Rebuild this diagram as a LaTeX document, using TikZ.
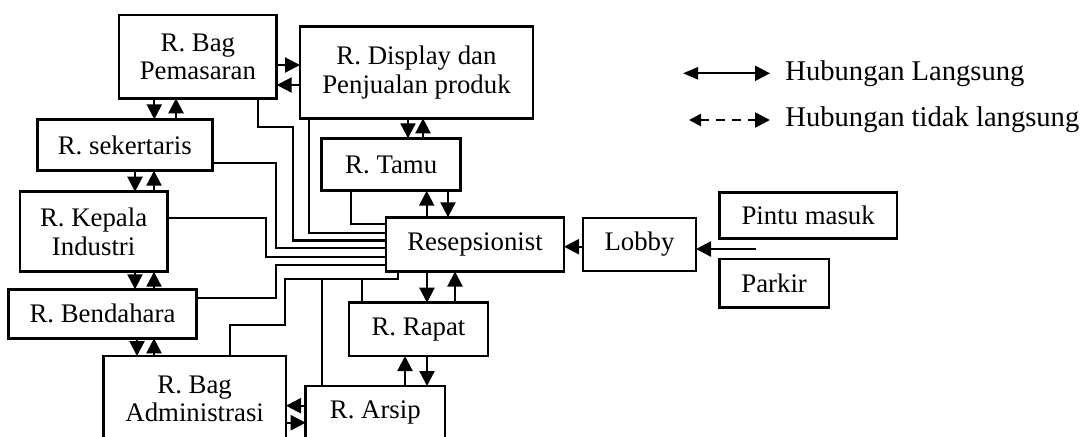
\documentclass[tikz,border=0pt]{standalone}
\usepackage{fontspec}
\setmainfont{Liberation Serif}
\usetikzlibrary{arrows.meta,calc}
\newcommand{\roomfont}{\fontsize{13.4}{14.2}\selectfont}
\newcommand{\legfont}{\fontsize{14.3}{16}\selectfont}
\tikzset{
  room/.style   ={draw=black, fill=white, line width=1.4pt,
                  align=center, font=\roomfont, inner sep=2pt, outer sep=0pt},
  arr/.style    ={-{Triangle[length=7.5pt,width=7.5pt]}, line width=1.1pt},
  link/.style   ={line width=1.1pt},
  legtext/.style={font=\legfont, anchor=west, inner sep=0pt},
}
\begin{document}
\begin{tikzpicture}[x=0.5pt,y=-0.5pt]
  \useasboundingbox[fill=white] (0,0) rectangle (1088,436);

  % rooms
  \node[room,minimum width=78.85pt,minimum height=41.65pt] (pem)   at (197.85,56.65) {R. Bag\\Pemasaran};
  \node[room,minimum width=116.5pt,minimum height=45.8pt]  (disp)  at (416.5,72.5)   {R. Display dan\\Penjualan produk};
  \node[room,minimum width=87.5pt, minimum height=25.7pt]  (sek)   at (124.8,145)    {R. sekertaris};
  \node[room,minimum width=69.5pt, minimum height=26.2pt]  (tamu)  at (391.2,164.5)  {R. Tamu};
  \node[room,minimum width=73.65pt,minimum height=40pt]    (kep)   at (93.65,231.7)  {R. Kepala\\Industri};
  \node[room,minimum width=94.2pt, minimum height=24.5pt]  (bend)  at (102.5,313.8)  {R. Bendahara};
  \node[room,minimum width=91.35pt,minimum height=43pt]    (adm)   at (194.65,399)   {R. Bag\\Administrasi};
  \node[room,minimum width=69.65pt,minimum height=26pt]    (arsip) at (375.35,412)   {R. Arsip};
  \node[room,minimum width=69.5pt, minimum height=26.65pt] (rapat) at (418.5,329.35)  {R. Rapat};
  \node[room,minimum width=89pt,   minimum height=27.1pt]  (resep) at (475,244.4)    {Resepsionist};
  \node[room,minimum width=56.5pt, minimum height=26.5pt]  (lobby) at (639.5,244.5)  {Lobby};
  \node[room,minimum width=88.85pt,minimum height=22.8pt]  (pintu) at (808.15,215.5) {Pintu masuk};
  \node[room,minimum width=54.85pt,minimum height=24.35pt] (parkir) at (774.15,283.35) {Parkir};

  % direct pairs
  \draw[arr] (pem.east |- 0,65) -- (disp.west |- 0,65);
  \draw[arr] (disp.west |- 0,85) -- (pem.east |- 0,85);
  \draw[arr] (154.3,0 |- pem.south) -- (154.3,0 |- sek.north);
  \draw[arr] (176,0 |- sek.north) -- (176,0 |- pem.south);
  \draw[arr] (408,0 |- disp.south) -- (408,0 |- tamu.north);
  \draw[arr] (423,0 |- tamu.north) -- (423,0 |- disp.south);
  \draw[arr] (135,0 |- sek.south) -- (135,0 |- kep.north);
  \draw[arr] (154,0 |- kep.north) -- (154,0 |- sek.south);
  \draw[arr] (135,0 |- kep.south) -- (135,0 |- bend.north);
  \draw[arr] (154,0 |- bend.north) -- (154,0 |- kep.south);
  \draw[arr] (137,0 |- bend.south) -- (137,0 |- adm.north);
  \draw[arr] (154,0 |- adm.north) -- (154,0 |- bend.south);
  \draw[arr] (arsip.west |- 0,405.7) -- (adm.east |- 0,405.7);
  \draw[arr] (adm.east |- 0,422.7) -- (arsip.west |- 0,422.7);
  \draw[arr] (405,0 |- arsip.north) -- (405,0 |- rapat.south);
  \draw[arr] (427,0 |- rapat.south) -- (427,0 |- arsip.north);
  \draw[arr] (427,0 |- resep.south) -- (427,0 |- rapat.north);
  \draw[arr] (455,0 |- rapat.north) -- (455,0 |- resep.south);
  \draw[arr] (426.7,0 |- resep.north) -- (426.7,0 |- tamu.south);
  \draw[arr] (448,0 |- tamu.south) -- (448,0 |- resep.north);
  \draw[arr] (lobby.west |- 0,246.7) -- (resep.east |- 0,246.7);
  \coordinate (entry) at (756,249);
  \draw[arr] (entry) -- (lobby.east |- entry);

  % links into the reception
  \draw[link] (350.7,0 |- tamu.south) |- (resep.west |- 0,224);
  \draw[link] (309.3,0 |- disp.south) |- (resep.west |- 0,232.7);
  \draw[link] (258,0 |- pem.south) |- (293.3,127.3) |- (resep.west |- 0,240.5);
  \draw[link] (sek.east |- 0,163.3) -| (276,248.3) -- (resep.west |- 0,248.3);
  \draw[link] (kep.east |- 0,218.3) -| (265.7,256.7) -- (resep.west |- 0,256.7);
  \draw[link] (bend.east |- 0,298.3) -| (276,265) -- (resep.west |- 0,265);
  \draw[link] (230,0 |- adm.north) |- (285,325) |- (398,279.3) -- (398,0 |- resep.south);
  \draw[link] (322,0 |- arsip.north) -- (322,279.3);
  \draw[link] (361.7,0 |- rapat.north) -- (361.7,279.3);

  % legend
  \coordinate (la1) at (683,73.3);
  \coordinate (la2) at (770,73.3);
  \coordinate (lb1) at (689,120);
  \coordinate (lb2) at (770,120);
  \draw[line width=1.1pt,{Triangle[length=7.5pt,width=6pt]}-{Triangle[length=7.5pt,width=7.5pt]}] (la1) -- (la2);
  \draw[line width=1.3pt,dash pattern=on 4.5pt off 3.5pt,{Triangle[length=6pt,width=6pt]}-{Triangle[length=7.5pt,width=7.5pt]}] (lb1) -- (lb2);
  \node[legtext] (lega) at (785,73.3) {Hubungan Langsung};
  \node[legtext] (legb) at (785,120) {Hubungan tidak langsung};
\end{tikzpicture}
\end{document}
